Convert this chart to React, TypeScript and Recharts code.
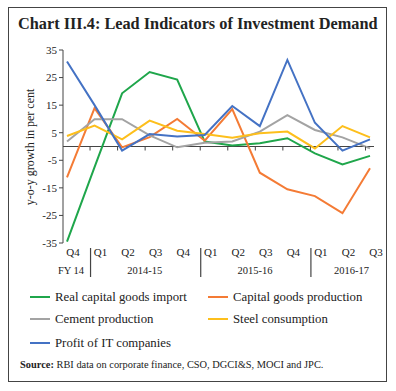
import React from 'react';
import { LineChart, Line, XAxis, YAxis, ReferenceLine } from 'recharts';

const quarters = ['Q4', 'Q1', 'Q2', 'Q3', 'Q4', 'Q1', 'Q2', 'Q3', 'Q4', 'Q1', 'Q2', 'Q3'];
const fiscalYears = ['FY 14', '2014-15', '2014-15', '2014-15', '2014-15', '2015-16', '2015-16', '2015-16', '2015-16', '2016-17', '2016-17', '2016-17'];

const capitalGoodsImport = [-34.5, -7.5, 19.3, 27.0, 24.3, 1.8, 0.4, 1.2, 3.0, -2.5, -6.5, -3.4];
const capitalGoodsProduction = [-11.2, 13.9, -0.3, 3.4, 10.0, 2.1, 13.6, -9.5, -15.5, -18.0, -24.2, -7.9];
const cementProduction = [1.8, 9.9, 9.9, 4.0, -0.3, 1.4, 1.8, 5.4, 11.4, 6.0, 3.3, -0.7];
const steelConsumption = [3.8, 7.6, 2.6, 9.4, 5.7, 4.5, 3.2, 4.8, 5.4, -0.7, 7.4, 3.3];
const itProfit = [30.8, 15.0, -1.5, 4.5, 3.6, 4.2, 14.7, 7.4, 31.4, 8.6, -1.5, 2.6];

const yTicks = [35, 25, 15, 5, -5, -15, -25, -35];

const series = [
  { key: 'import', name: 'Real capital goods import', color: '#1fa64b', values: capitalGoodsImport },
  { key: 'capgoods', name: 'Capital goods production', color: '#f47b35', values: capitalGoodsProduction },
  { key: 'cement', name: 'Cement production', color: '#a3a3a3', values: cementProduction },
  { key: 'steel', name: 'Steel consumption', color: '#fdbf1c', values: steelConsumption },
  { key: 'it', name: 'Profit of IT companies', color: '#4472c4', values: itProfit },
];

const data = quarters.map((q, i) => {
  const row: Record<string, string | number> = { q: `${q}-${i}`, label: q, fy: fiscalYears[i] };
  series.forEach((s) => {
    row[s.key] = s.values[i];
  });
  return row;
});

const W = 396;
const H = 391;
const PLOT_TOP = 50;
const PLOT_LEFT = 63;
const PLOT_RIGHT = 374;
const PLOT_BOTTOM = 243;
const X_PAD = 4;
const STEP = (PLOT_RIGHT - PLOT_LEFT - 2 * X_PAD) / (quarters.length - 1);
const ZERO_Y = PLOT_TOP + (PLOT_BOTTOM - PLOT_TOP) / 2;
const FONT = '"Liberation Serif", "DejaVu Serif", serif';
const AXIS = '#444';
const TEXT = '#222';

const QuarterTick = (props: any) => {
  const { x, index, payload } = props;
  const i = index as number;
  const fy = fiscalYears[i];
  const groupStart = i === 0 || fiscalYears[i - 1] !== fy;
  const n = fiscalYears.filter((f) => f === fy).length;
  return (
    <g>
      {i > 0 && <line x1={x - 4.5} x2={x - 4.5} y1={ZERO_Y} y2={ZERO_Y + 4} stroke={AXIS} />}
      <text x={x + 6} y={PLOT_BOTTOM + 13} textAnchor="middle" fontSize={11} fontFamily={FONT} fill={TEXT}>
        {String(payload.value).split('-')[0]}
      </text>
      {groupStart && i > 0 && (
        <line x1={x - 4} x2={x - 4} y1={PLOT_BOTTOM + 5} y2={PLOT_BOTTOM + 34} stroke={AXIS} strokeWidth={1.2} />
      )}
      {groupStart && (
        <text
          x={x + ((n - 1) / 2) * STEP + (n > 1 ? 9 : 4)}
          y={PLOT_BOTTOM + 31}
          textAnchor="middle"
          fontSize={10.5}
          fontFamily={FONT}
          fill={TEXT}
        >
          {fy}
        </text>
      )}
    </g>
  );
};

const LegendItem = ({ name, color, left, top }: { name: string; color: string; left: number; top: number }) => (
  <div style={{ position: 'absolute', left, top, height: 16, display: 'flex', alignItems: 'center' }}>
    <div style={{ width: 20, height: 2, background: color, marginRight: 5 }} />
    <span style={{ fontSize: 12.8, fontFamily: FONT, color: TEXT, whiteSpace: 'nowrap' }}>{name}</span>
  </div>
);

const legendPos = [
  { left: 30, top: 289 },
  { left: 208, top: 289 },
  { left: 30, top: 311 },
  { left: 208, top: 311 },
  { left: 30, top: 335 },
];

export default function App() {
  return (
    <div style={{ position: 'absolute', left: 0, top: 0, width: W, height: H, background: '#fff', fontFamily: FONT }}>
      <div style={{ position: 'absolute', left: 8, top: 7, width: 377, height: 373, border: '1px solid #444' }} />
      <div
        style={{
          position: 'absolute',
          left: 18,
          top: 14,
          fontSize: 16.3,
          fontWeight: 'bold',
          color: '#222',
          whiteSpace: 'nowrap',
        }}
      >
        Chart III.4: Lead Indicators of Investment Demand
      </div>
      <div
        style={{
          position: 'absolute',
          left: 30,
          top: 147,
          transform: 'translate(-50%, -50%) rotate(-90deg)',
          fontSize: 12,
          color: TEXT,
          whiteSpace: 'nowrap',
        }}
      >
        y-o-y growth in per cent
      </div>
      <div style={{ position: 'absolute', left: 0, top: 0 }}>
        <LineChart
          width={W}
          height={H}
          data={data}
          margin={{ top: PLOT_TOP, right: W - PLOT_RIGHT, bottom: H - PLOT_BOTTOM - 40, left: PLOT_LEFT - 40 }}
        >
          <XAxis
            dataKey="q"
            height={40}
            axisLine={false}
            tickLine={false}
            interval={0}
            padding={{ left: X_PAD, right: X_PAD }}
            tick={<QuarterTick />}
          />
          <YAxis
            width={40}
            domain={[-35, 35]}
            ticks={yTicks}
            interval={0}
            axisLine={{ stroke: AXIS }}
            tickLine={{ stroke: AXIS }}
            tickSize={4}
            tick={{ fontSize: 11, fontFamily: FONT, fill: TEXT }}
          />
          <ReferenceLine y={0} stroke={AXIS} strokeWidth={1.2} />
          {series.map((s) => (
            <Line
              key={s.key}
              dataKey={s.key}
              name={s.name}
              stroke={s.color}
              strokeWidth={2}
              dot={false}
              type="linear"
              isAnimationActive={false}
            />
          ))}
        </LineChart>
      </div>
      {series.map((s, i) => (
        <LegendItem key={s.key} name={s.name} color={s.color} left={legendPos[i].left} top={legendPos[i].top} />
      ))}
      <div style={{ position: 'absolute', left: 20, top: 359, fontSize: 10.4, color: TEXT, whiteSpace: 'nowrap' }}>
        <b>Source:</b> RBI data on corporate finance, CSO, DGCI&amp;S, MOCI and JPC.
      </div>
    </div>
  );
}
